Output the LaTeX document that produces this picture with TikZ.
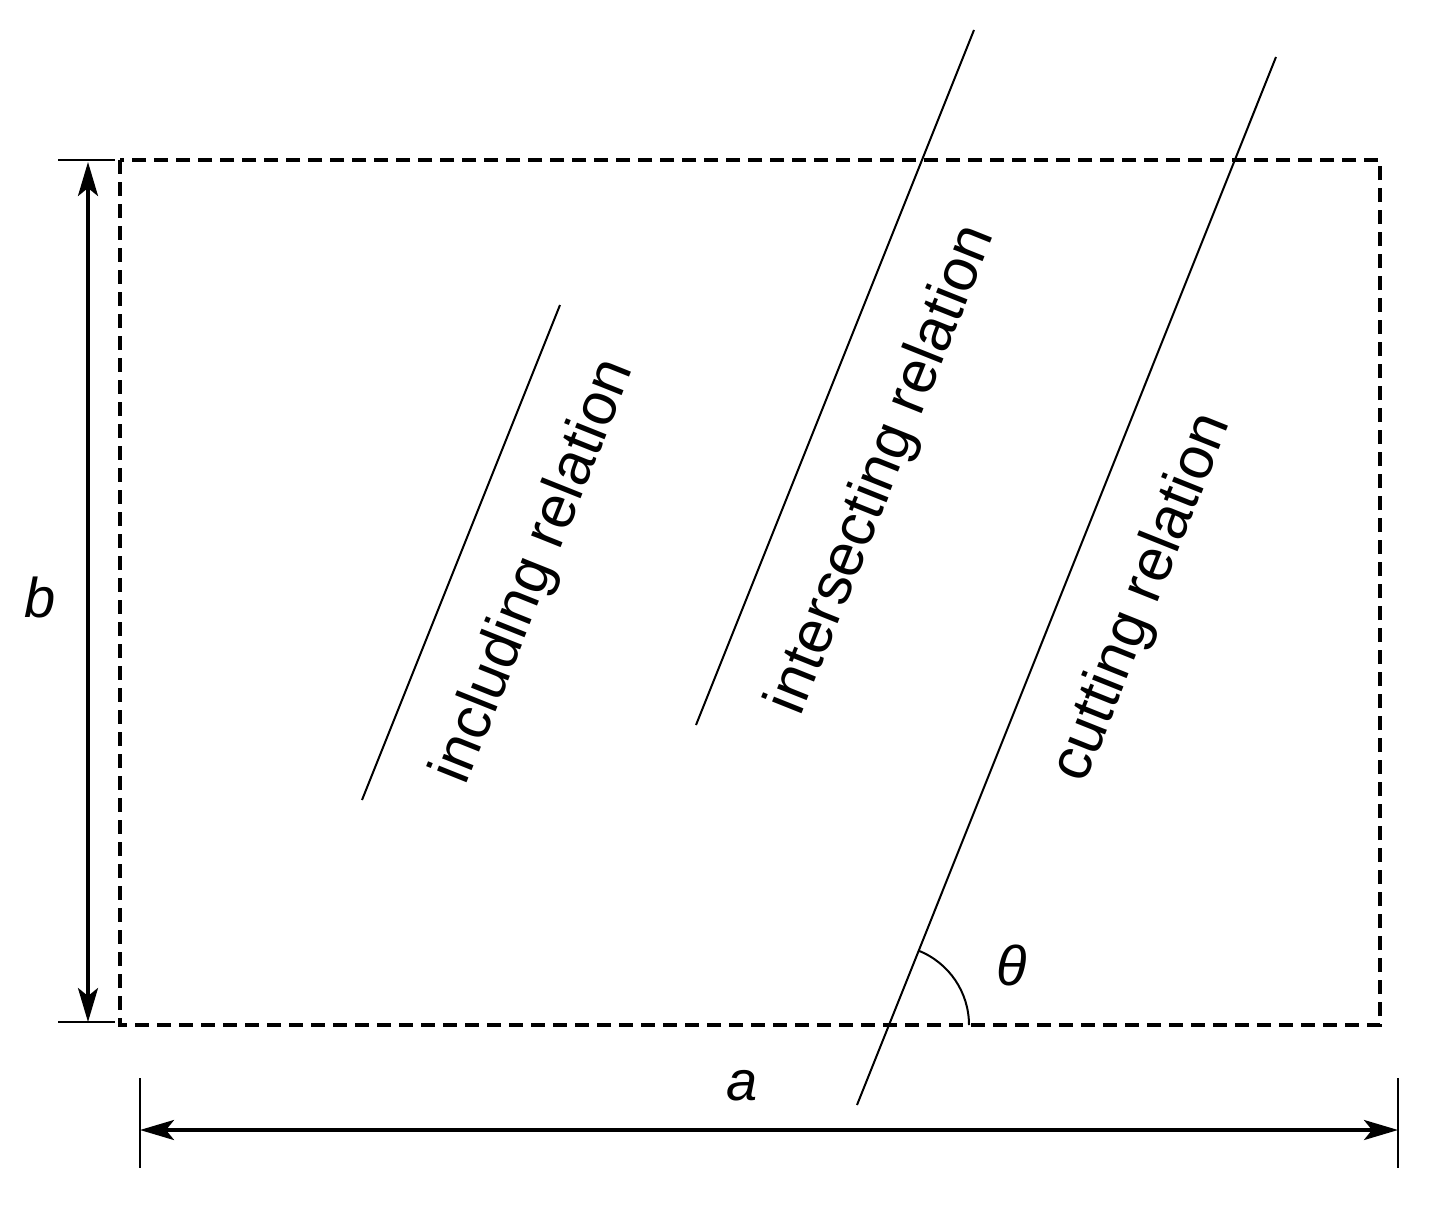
\documentclass[tikz,border=0pt]{standalone}
\usepackage{fontspec}
\setmainfont{Liberation Sans}
\usetikzlibrary{arrows.meta}
\begin{document}
\begin{tikzpicture}[x=1pt,y=-1pt,
  thinline/.style={line width=2pt},
  dimarrow/.style={line width=3.5pt,-{Stealth[length=34pt,width=20pt,inset=8pt]}},
  lbl/.style={font=\fontsize{56}{60}\selectfont},
  reltext/.style={font=\fontsize{60}{64}\selectfont,rotate=68.2}]
\useasboundingbox (0,0) rectangle (1433,1210);
\draw[line width=3.5pt,dash pattern=on 14pt off 8pt] (120,160) rectangle (1380,1025);
% b dimension
\coordinate (bt) at (88,162); \coordinate (bb) at (88,1022);
\draw[thinline] (58,160) -- (115,160);
\draw[thinline] (58,1022) -- (115,1022);
\draw[dimarrow] (88,590) -- (bt);
\draw[dimarrow] (88,590) -- (bb);
\node[lbl] (b) at (40,597) {\itshape b};
% a dimension
\coordinate (al) at (140,1130); \coordinate (ar) at (1398,1130);
\draw[thinline] (140,1078) -- (140,1168);
\draw[thinline] (1398,1078) -- (1398,1168);
\draw[dimarrow] (770,1130) -- (al);
\draw[dimarrow] (770,1130) -- (ar);
\node[lbl] (a) at (742,1086) {\itshape a};
% relation lines
\coordinate (i1) at (362,800); \coordinate (i2) at (560,305);
\coordinate (s1) at (696,725); \coordinate (s2) at (974,30);
\coordinate (c1) at (857,1105); \coordinate (c2) at (1276,57);
\draw[thinline] (i1) -- (i2);
\draw[thinline] (s1) -- (s2);
\draw[thinline] (c1) -- (c2);
\node[reltext] (ti) at (535,572) {including relation};
\node[reltext] (ts) at (883,470) {intersecting relation};
\node[reltext] (tc) at (1143,598) {cutting relation};
% angle
\draw[thinline] (969,1025) arc[start angle=0,end angle=-68.2,radius=80];
\node[lbl] (th) at (1012,965) {\itshape θ};
\end{tikzpicture}
\end{document}
